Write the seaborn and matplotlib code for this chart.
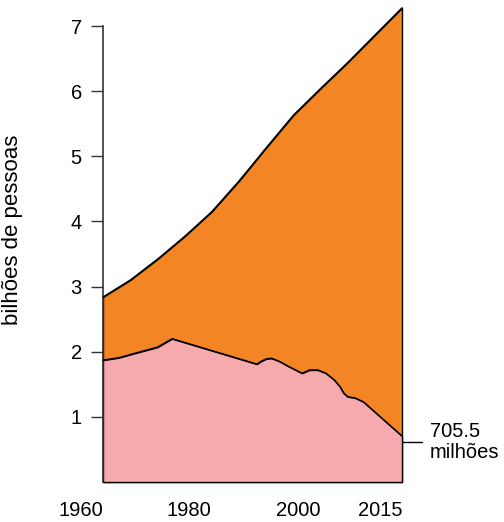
import matplotlib
matplotlib.use("Agg")
import matplotlib.pyplot as plt
import numpy as np
import pandas as pd
import seaborn as sns

# ---- data (billions of people) ----
years_total = [1960, 1965, 1970, 1975, 1980, 1985, 1990, 1995, 2000, 2005, 2010, 2015]
total_pop = [2.84, 3.10, 3.42, 3.77, 4.15, 4.62, 5.13, 5.63, 6.04, 6.44, 6.86, 7.28]

years_poor = [1960, 1963, 1966, 1970, 1972.7, 1988.3, 1989, 1990, 1991, 1992.5, 1994,
              1996.6, 1998, 1999.5, 2001, 2002.5, 2003.6, 2004.3, 2005, 2006.4, 2007.9, 2015]
poor_pop = [1.87, 1.91, 1.98, 2.07, 2.20, 1.81, 1.85, 1.89, 1.90, 1.85, 1.78,
            1.67, 1.72, 1.72, 1.67, 1.57, 1.46, 1.36, 1.31, 1.29, 1.23, 0.7055]

ytick_vals = [1, 2, 3, 4, 5, 6, 7]
xtick_vals = [1960, 1980, 2000, 2015]
xtick_labels = ["1960", "1980", "2000", "2015"]
ylabel = "bilhões de pessoas"
end_label = "705.5\nmilhões"

ORANGE = "#F48524"
PINK = "#F7AAAD"

sns.set_theme(style="white")
plt.rcParams["font.family"] = ["Liberation Sans", "DejaVu Sans"]

fig = plt.figure(figsize=(5.04, 5.22), dpi=100)
ax = fig.add_axes([103 / 504, 1 - 482 / 522, 299 / 504, 482 / 522])

df_total = pd.DataFrame({"ano": years_total, "pop": total_pop})
df_poor = pd.DataFrame({"ano": years_poor, "pop": poor_pop})

LW = 1.0
ax.fill_between(df_total["ano"], 0, df_total["pop"], facecolor=ORANGE,
                edgecolor="black", linewidth=LW, zorder=1, clip_on=False)
ax.fill_between(df_poor["ano"], 0, df_poor["pop"], facecolor=PINK,
                edgecolor="black", linewidth=LW, zorder=2, clip_on=False)
sns.lineplot(data=df_total, x="ano", y="pop", color="black", linewidth=LW,
             ax=ax, zorder=3, clip_on=False)
sns.lineplot(data=df_poor, x="ano", y="pop", color="black", linewidth=LW,
             ax=ax, zorder=3, clip_on=False)

ax.set_xlim(1960, 2015)
ax.set_ylim(0, 7.4)

# y axis
ax.set_yticks(ytick_vals)
ax.set_yticklabels([str(v) for v in ytick_vals], fontsize=14.5, color="black")
ax.tick_params(axis="y", left=True, length=8.3, width=1.0, color="#333333", pad=7)
ax.spines["left"].set_bounds(0, 7)
ax.spines["left"].set_color("#333333")
ax.spines["left"].set_linewidth(1.2)
for s in ["top", "right", "bottom"]:
    ax.spines[s].set_visible(False)

# x axis
ax.set_xticks(xtick_vals)
ax.set_xticklabels(xtick_labels, fontsize=14.5, color="black", ha="right")
ax.tick_params(axis="x", bottom=False, length=0, pad=14)

ax.set_xlabel("")
ax.set_ylabel(ylabel, fontsize=16, color="black")
ax.yaxis.set_label_coords(-0.268, 0.523)
ax.grid(False)

# end annotation
end_x = years_poor[-1]
ax.plot([end_x, end_x + 3.7], [0.61, 0.61], color="black", linewidth=1.0,
        clip_on=False, zorder=4)
ax.text(end_x + 5.15, 0.61, end_label, fontsize=14.5, ha="left", va="center",
        color="black", linespacing=1.15, clip_on=False)

fig.savefig("out.png", dpi=100)
